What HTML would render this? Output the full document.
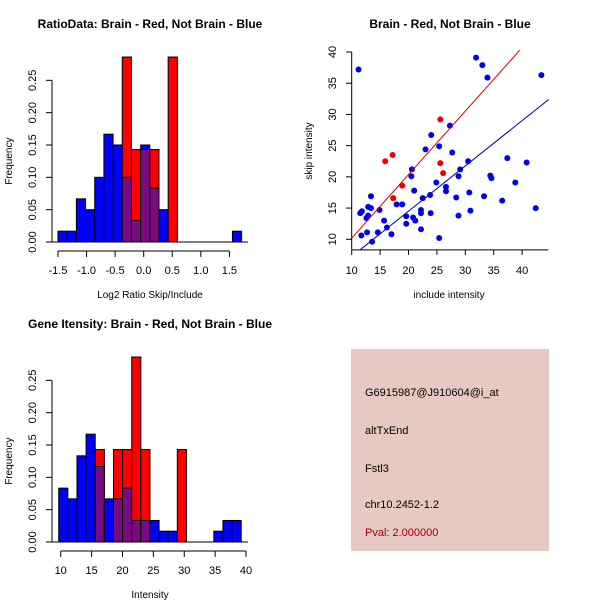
<!DOCTYPE html>
<html><head><meta charset="utf-8"><style>
body{margin:0;background:#fff}
svg{display:block;font-family:"Liberation Sans",sans-serif}
</style></head><body>
<svg id="c" width="600" height="600" viewBox="0 0 600 600">
<rect width="600" height="600" fill="#fff"/>
<rect x="351" y="349" width="198" height="202" fill="#e6c9c2"/>
<g font-size="11" fill="#000">
<text x="365" y="396">G6915987@J910604@i_at</text>
<text x="365" y="434">altTxEnd</text>
<text x="365" y="472">Fstl3</text>
<text x="365" y="508">chr10.2452-1.2</text>
<text x="365" y="536" fill="#a00000">Pval: 2.000000</text>
</g>
</svg>
<script>
// Top-left histogram (ratio)
const ratioBlue = [0.0167,0.0167,0.0667,0.05,0.1,0.1667,0.15,0.1,0.0333,0.15,0.0833,0.05,0,0,0,0,0,0,0,0.0167];
const ratioRed  = [0,0,0,0,0,0,0,0.286,0.143,0.143,0.143,0,0.286,0,0,0,0,0,0,0];
const ratioBinStart = -1.5;
const ratioBinWidth = 0.1607;
const ratioXTicks = [-1.5,-1.0,-0.5,0.0,0.5,1.0,1.5];
const ratioXLabels = ["-1.5","-1.0","-0.5","0.0","0.5","1.0","1.5"];
const freqTicks = [0,0.05,0.1,0.15,0.2,0.25];
const freqLabels = ["0.00","0.05","0.10","0.15","0.20","0.25"];
// Bottom-left histogram (intensity)
const intBlue = [0.0833,0.0667,0.1333,0.1667,0.1167,0.0667,0.0667,0.0833,0.0333,0.0333,0.0333,0.0167,0.0167,0,0,0,0,0.0167,0.0333,0.0333];
const intRed  = [0,0,0,0,0.143,0,0.143,0.143,0.286,0.143,0,0,0,0.143,0,0,0,0,0,0];
const intBinStart = 9.68;
const intBinWidth = 1.477;
const intXTicks = [10,15,20,25,30,35,40];
// Scatter
const blueX = [11.2,31.9,33.0,33.9,43.4,27.3,24.0,23.0,25.4,27.7,30.5,37.4,40.8,20.6,29.1,20.5,28.8,34.4,34.6,38.8,24.9,21.0,26.6,26.6,30.7,13.4,22.5,23.8,28.4,33.3,36.5,17.9,18.9,12.9,13.4,14.9,11.8,11.5,12.9,12.6,15.7,22.2,22.2,23.9,19.6,20.8,21.2,30.9,28.8,42.4,19.6,16.2,22.2,12.7,14.6,17.0,11.7,13.6,25.4];
const blueY = [37.2,39.1,37.9,35.9,36.3,28.2,26.7,24.4,24.9,23.9,22.5,23.0,22.3,21.2,21.2,20.1,20.1,20.2,19.8,19.1,19.1,17.8,18.4,17.7,17.5,16.9,16.6,17.1,16.7,16.9,16.2,15.6,15.6,15.2,15.0,14.7,14.5,14.2,13.8,13.4,13.0,14.7,14.2,14.2,13.7,13.5,13.0,14.6,13.8,15.0,12.5,11.9,11.6,11.1,11.1,10.8,10.6,9.6,10.2];
const redX = [15.9,17.2,25.6,25.6,26.1,18.9,17.3];
const redY = [22.5,23.5,29.2,22.2,20.6,18.6,16.6];
const scXTicks = [10,15,20,25,30,35,40];
const scYTicks = [10,15,20,25,30,35,40];

const svg = document.getElementById('c');
const NS = 'http://www.w3.org/2000/svg';
function mk(tag, attrs, parent){
  const e = document.createElementNS(NS, tag);
  for (const k in attrs) e.setAttribute(k, attrs[k]);
  (parent||svg).appendChild(e);
  return e;
}
function txt(x,y,s,opts,parent){
  const t = mk('text', Object.assign({x:x,y:y,'font-size':11,'text-anchor':'middle'},opts||{}), parent);
  t.textContent = s;
  return t;
}

function histogram(cfg){
  const g = mk('g', {});
  
  
  const sx = v => cfg.x0px + (v - cfg.x0) * cfg.pxPerUnit;
  const sy = v => cfg.y0px - v * cfg.pxPerFreq;
  const n = cfg.blue.length;
  for (let i=0;i<n;i++){
    const b = cfg.blue[i], r = cfg.red[i];
    const xa = sx(cfg.binStart + i*cfg.binWidth), xb = sx(cfg.binStart + (i+1)*cfg.binWidth);
    const hi = Math.max(b,r), lo = Math.min(b,r);
    if (hi > 0){
      const rc = mk('rect', {x:xa, y:sy(hi), width:xb-xa, height:sy(0)-sy(hi), fill: b>=r ? '#0000ff' : '#ff0000', stroke:'#000','stroke-width':1}, g);
      
      
    }
    if (lo > 0){
      const pc = mk('rect', {x:xa, y:sy(lo), width:xb-xa, height:sy(0)-sy(lo), fill:'#7a0a80', stroke:'#000','stroke-width':1}, g);
      
      
    }
  }
  mk('line', {x1:52, x2:248, y1:sy(0), y2:sy(0), stroke:'#000'}, g);
  // y axis
  const ya = mk('g', {}, g);
  
  
  mk('line', {x1:52,x2:52,y1:sy(freqTicks[0]),y2:sy(freqTicks[freqTicks.length-1]),stroke:'#000'}, ya);
  freqTicks.forEach((t,i)=>{
    mk('line',{x1:46,x2:52,y1:sy(t),y2:sy(t),stroke:'#000'},ya);
    txt(36, sy(t), freqLabels[i], {transform:`rotate(-90 36 ${sy(t)})`}, ya);
  });
  const yt = txt(12, (cfg.y0px + sy(0.25))/2 , 'Frequency', {transform:`rotate(-90 12 ${(cfg.y0px + sy(0.25))/2})`,'font-size':10}, g);
  
  
  // x axis
  const xa = mk('g', {}, g);
  
  
  const ay = cfg.y0px + 9;
  mk('line',{x1:sx(cfg.xTicks[0]),x2:sx(cfg.xTicks[cfg.xTicks.length-1]),y1:ay,y2:ay,stroke:'#000'},xa);
  cfg.xTicks.forEach((t,i)=>{
    mk('line',{x1:sx(t),x2:sx(t),y1:ay,y2:ay+6,stroke:'#000'},xa);
    txt(sx(t), ay+23, cfg.xLabels[i], {}, xa);
  });
  const xt = txt(150, cfg.y0px+56, cfg.xTitle, {'font-size':10}, g);
  
  
  const tt = txt(150, cfg.y0px - 214, cfg.title, {'font-size':12,'font-weight':'bold'}, g);
  
  
}

histogram({name:'ratio-histogram', blue:ratioBlue, red:ratioRed, binStart:ratioBinStart, binWidth:ratioBinWidth,
  x0:-1.5, x0px:58, pxPerUnit:57.13, y0px:242, pxPerFreq:646.7,
  xTicks:ratioXTicks, xLabels:ratioXLabels, xTitle:'Log2 Ratio Skip/Include', title:'RatioData: Brain - Red, Not Brain - Blue'});
histogram({name:'intensity-histogram', blue:intBlue, red:intRed, binStart:intBinStart, binWidth:intBinWidth,
  x0:10, x0px:60.7, pxPerUnit:6.177, y0px:542, pxPerFreq:646.7,
  xTicks:intXTicks, xLabels:intXTicks.map(String), xTitle:'Intensity', title:'Gene Itensity: Brain - Red, Not Brain - Blue'});

// Scatter
(function(){
  const g = mk('g', {});
  
  
  const sx = v => 351.7 + (v-10)*5.68;
  const sy = v => 239.3 - (v-10)*6.243;
  const xmin = 9.9, xmax = 44.7, ymin = 8.3, ymax = 40.3;
  const defs = mk('defs', {}, g);
  const cp = mk('clipPath', {id:'clipSc'}, defs);
  mk('rect', {x:sx(xmin), y:sy(ymax), width:sx(xmax)-sx(xmin), height:sy(ymin)-sy(ymax)}, cp);
  blueX.forEach((x,i)=>{
    const c = mk('circle',{cx:sx(x),cy:sy(blueY[i]),r:3,fill:'#0000ee'},g);
    
    
  });
  redX.forEach((x,i)=>{
    const c = mk('circle',{cx:sx(x),cy:sy(redY[i]),r:3,fill:'#ee0000'},g);
    
    
  });
  function slope(xs, ys){ let a=0,b=0; xs.forEach((x,i)=>{a+=x*ys[i]; b+=x*x;}); return a/b; }
  [[redX,redY,'#dd0000','red-fit-line'],[blueX,blueY,'#0000aa','blue-fit-line']].forEach(([xs,ys,col,nm])=>{
    const s = slope(xs,ys);
    const l = mk('line',{x1:sx(xmin),y1:sy(s*xmin),x2:sx(xmax),y2:sy(s*xmax),stroke:col,'stroke-width':1,'clip-path':'url(#clipSc)'},g);
    
    
  });
  const ya = mk('g', {}, g);
  
  
  mk('line',{x1:351.7,x2:351.7,y1:sy(ymin),y2:sy(40),stroke:'#000'},ya);
  scYTicks.forEach(t=>{
    mk('line',{x1:346,x2:351.7,y1:sy(t),y2:sy(t),stroke:'#000'},ya);
    txt(336, sy(t), String(t), {transform:`rotate(-90 336 ${sy(t)})`}, ya);
  });
  const xa = mk('g', {}, g);
  
  
  mk('line',{x1:351.7,x2:548.3,y1:sy(ymin),y2:sy(ymin),stroke:'#000'},xa);
  scXTicks.forEach(t=>{
    mk('line',{x1:sx(t),x2:sx(t),y1:sy(ymin),y2:sy(ymin)+5,stroke:'#000'},xa);
    txt(sx(t), 274, String(t), {}, xa);
  });
  const xt = txt(449, 298, 'include intensity', {'font-size':10}, g);
  
  
  const yt = txt(312, 151, 'skip intensity', {'font-size':10, transform:'rotate(-90 312 151)'}, g);
  
  
  const tt = txt(450, 28, 'Brain - Red, Not Brain - Blue', {'font-size':12,'font-weight':'bold'}, g);
  
  
})();
</script>
</body></html>
